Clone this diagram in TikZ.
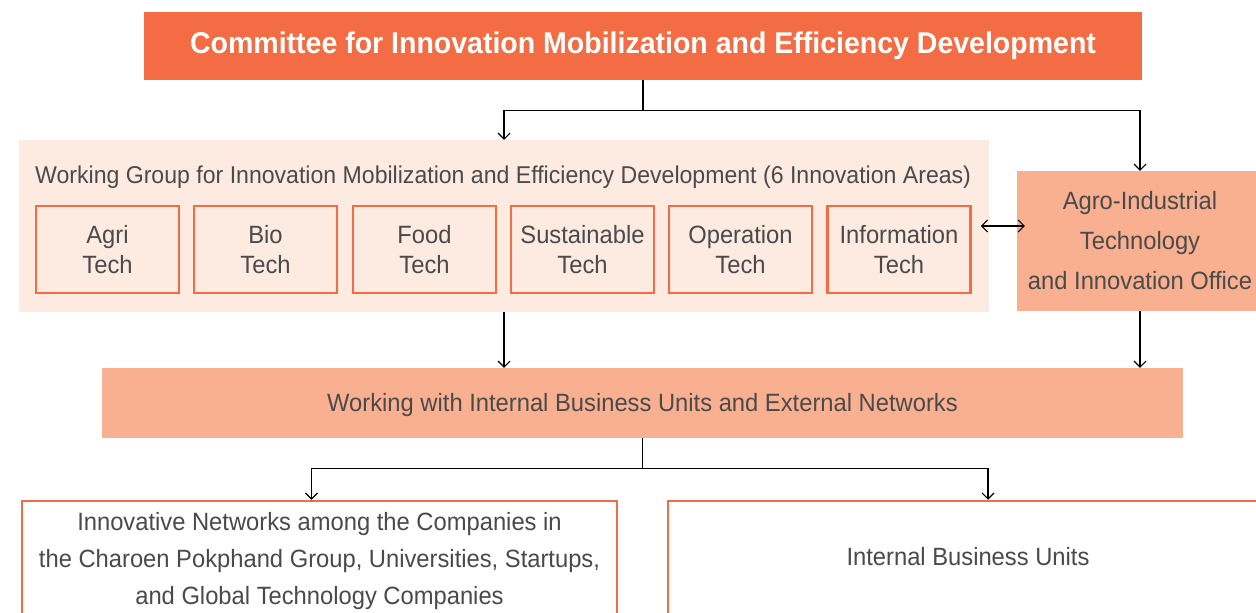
\documentclass[tikz,border=0pt]{standalone}
\usepackage{fontspec}
\setmainfont{Liberation Sans}[FakeStretch=0.95]
\usetikzlibrary{arrows.meta}

\definecolor{cpOrange}{HTML}{F36C43}
\definecolor{cpPale}{HTML}{FDEBE2}
\definecolor{cpSalmon}{HTML}{F9B091}
\definecolor{cpText}{HTML}{4A4A4A}

\tikzset{
  boxfont/.style={font=\fontsize{25}{#1}\selectfont},
  headbox/.style={fill=cpOrange, text=white, inner sep=0pt,
    font=\fontsize{30}{34}\selectfont\bfseries},
  groupbox/.style={fill=cpPale, inner sep=0pt},
  techbox/.style={draw=cpOrange, line width=2.5pt, text=cpText, align=center,
    minimum width=143pt, minimum height=87pt, inner sep=0pt, boxfont=30},
  softbox/.style={fill=cpSalmon, text=cpText, align=center, inner sep=0pt},
  outbox/.style={draw=cpOrange, line width=2.5pt, fill=white, text=cpText,
    align=center, inner sep=0pt},
  conn/.style={line width=1.1pt, -{Straight Barb[length=6pt,width=12pt]}},
  bothconn/.style={line width=1.1pt,
    {Straight Barb[length=6pt,width=12pt]}-{Straight Barb[length=6pt,width=12pt]}},
}

\begin{document}
\begin{tikzpicture}[x=1pt, y=-1pt]
  \useasboundingbox (0,0) rectangle (1256,613);
  \clip (0,0) rectangle (1256,613);

  \node[headbox, minimum width=998pt, minimum height=68pt] (cimed) at (643,46)
    {Committee for Innovation Mobilization and Efficiency Development};

  % working group
  \node[groupbox, minimum width=970pt, minimum height=172pt] (wg) at (504,226) {};
  \node[anchor=base west, inner sep=0pt, text=cpText, font=\fontsize{24.3}{30}\selectfont]
    (wgtitle) at (35,183)
    {Working Group for Innovation Mobilization and Efficiency Development (6 Innovation Areas)};
  \foreach \name/\x/\lbl in {agri/107.5/Agri, bio/265.5/Bio, food/424.5/Food,
      sust/582.5/Sustainable, oper/740.5/Operation, info/899/Information}
    \node[techbox] (\name) at (\x,249.5) {\lbl\\Tech};

  \node[softbox, minimum width=246pt, minimum height=140pt, boxfont=40] (agro) at (1140,241)
    {Agro-Industrial\\Technology\\and Innovation Office};

  \node[softbox, minimum width=1081pt, minimum height=70pt, boxfont=30,
    text depth=2pt] (work) at (642.5,403)
    {Working with Internal Business Units and External Networks};

  % outputs (cut off at the page edge)
  \node[outbox, minimum width=595pt, minimum height=120pt, boxfont=37] (netw) at (319.5,561)
    {Innovative Networks among the Companies in\\
     the Charoen Pokphand Group, Universities, Startups,\\
     and Global Technology Companies};
  \node[outbox, minimum width=600pt, minimum height=124pt, boxfont=30,
    text depth=14pt] (units) at (968,563)
    {Internal Business Units};

  % connectors
  \draw[conn] (cimed.south) -- ++(0,30) -| (wg.north);
  \draw[conn] (cimed.south) -- ++(0,30) -| (agro.north);
  \draw[bothconn, shorten <=9pt, shorten >=-8pt]
    ([yshift=23.5pt]info.east) -- ([yshift=23.5pt]info.east -| agro.west);
  \draw[conn] (wg.south) -- (wg.south |- work.north);
  \draw[conn] (agro.south) -- (agro.south |- work.north);
  \draw[conn] (work.south) -- ++(0,30) -| ([xshift=-8pt]netw.north);
  \draw[conn] (work.south) -- ++(0,30) -| ([xshift=20pt]units.north);
\end{tikzpicture}
\end{document}
